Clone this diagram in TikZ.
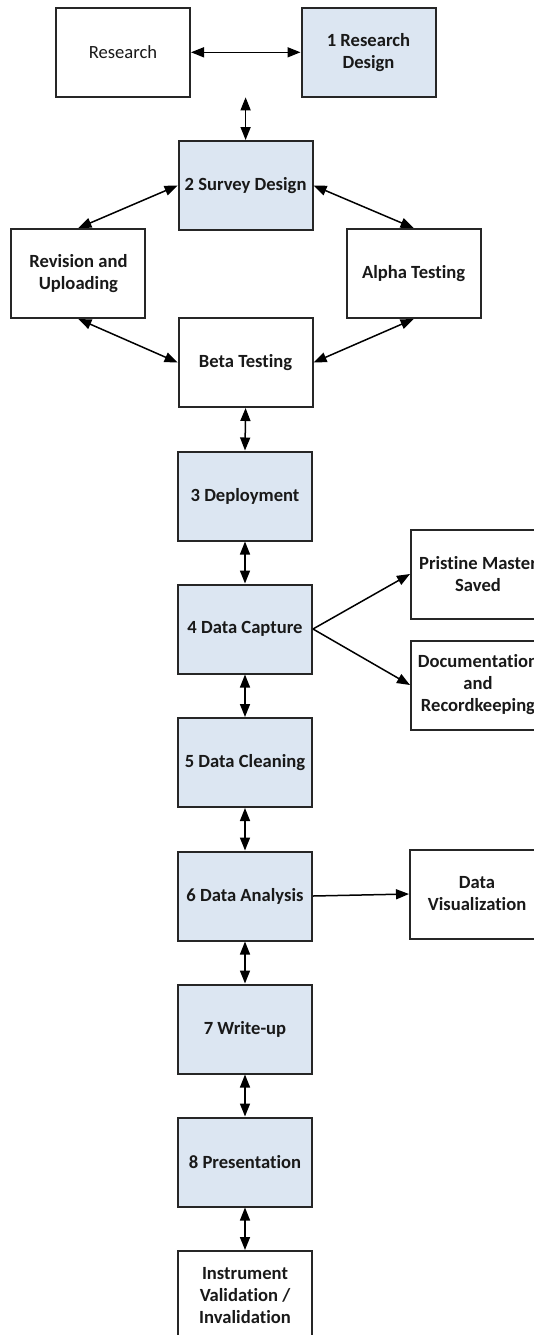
\documentclass[tikz,border=0pt]{standalone}
\usepackage{fontspec}
\setmainfont{Carlito}[Ligatures=NoCommon]
\usetikzlibrary{arrows.meta}
\definecolor{boxblue}{HTML}{DCE6F2}
\definecolor{boxline}{HTML}{262626}
\tikzset{
  box/.style={draw=boxline, line width=1pt, minimum width=67pt, minimum height=44.5pt,
    inner sep=0pt, align=center, font=\fontsize{9.3}{11}\selectfont\bfseries, text=black!90},
  bluebox/.style={box, fill=boxblue},
  plainbox/.style={box, fill=white},
  conn/.style={line width=0.75pt, draw=black},
  dbl/.style={conn, {Triangle[length=6.5pt,width=5pt]}-{Triangle[length=6.5pt,width=5pt]}},
  sgl/.style={conn, -{Triangle[length=6.5pt,width=5pt]}}
}
\begin{document}
\begin{tikzpicture}[x=0.5pt,y=-0.5pt]
\useasboundingbox (0,0) rectangle (534,1335);
\node[plainbox, font=\fontsize{9.3}{11}\selectfont] (research) at (123,52.3) {Research};
\node[bluebox] (rd1) at (368.5,52.3) {1 Research\\Design};
\node[bluebox] (sd2) at (245.6,185.5) {2 Survey Design};
\node[plainbox] (rev) at (78.4,273.5) {Revision and\\Uploading};
\node[plainbox] (alpha) at (413.6,273.5) {Alpha Testing};
\node[plainbox] (beta) at (245.6,362.5) {Beta Testing};
\node[bluebox] (dep3) at (245,496) {3 Deployment};
\node[bluebox] (dc4) at (245,629) {4 Data Capture};
\node[bluebox] (clean5) at (245,762.5) {5 Data Cleaning};
\node[bluebox] (an6) at (245,896) {6 Data Analysis};
\node[bluebox] (wu7) at (245,1029) {7 Write-up};
\node[bluebox] (pres8) at (245,1162) {8 Presentation};
\node[plainbox] (instr) at (245,1295.5) {Instrument\\Validation /\\Invalidation};
\node[plainbox] (prist) at (478,574) {Pristine Master\\Saved};
\node[plainbox] (doc) at (478,685) {Documentation\\and\\Recordkeeping};
\node[plainbox] (vis) at (477,894) {Data\\Visualization};
\coordinate (rdrow) at (245.6,97.3);

\draw[dbl] (research) -- (rd1);
\draw[dbl] (rdrow) -- (sd2.north);
\draw[dbl] (sd2.west) -- (rev.north);
\draw[dbl] (sd2.east) -- (alpha.north);
\draw[dbl] (rev.south) -- (beta.west);
\draw[dbl] (alpha.south) -- (beta.east);
\draw[dbl] (beta.south) -- (dep3.north);
\draw[dbl] (dep3) -- (dc4);
\draw[dbl] (dc4) -- (clean5);
\draw[dbl] (clean5) -- (an6);
\draw[dbl] (an6) -- (wu7);
\draw[dbl] (wu7) -- (pres8);
\draw[dbl] (pres8) -- (instr);
\draw[sgl] (dc4.east) -- (prist.west);
\draw[sgl] (dc4.east) -- (doc.west);
\draw[sgl] (an6.east) -- (vis.west);
\end{tikzpicture}
\end{document}
